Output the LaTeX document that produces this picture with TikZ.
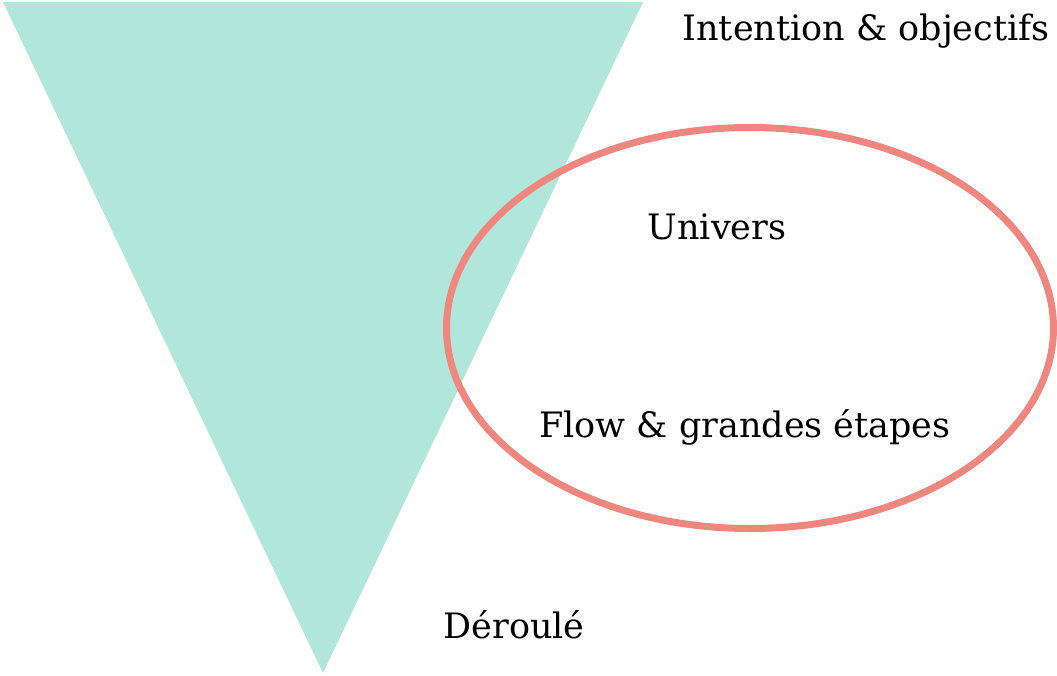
\documentclass[tikz,border=0pt]{standalone}
\usepackage{fontspec}
\setmainfont{DejaVu Serif}
\usetikzlibrary{shapes.geometric}
\definecolor{funnelgreen}{HTML}{B1E6DA}
\definecolor{zonered}{HTML}{F0877F}

\begin{document}
\begin{tikzpicture}[x=1pt, y=-1pt,
  lbl/.style={anchor=base, inner sep=0pt, font=\fontsize{35}{42}\selectfont}]
\useasboundingbox (0,0) rectangle (1057,675);
\fill[funnelgreen] (3,2) -- (643,2) -- (323,673) -- cycle;
\node[draw=zonered, line width=7pt, ellipse, minimum width=607pt, minimum height=401pt, inner sep=0pt] (zone) at (750,328) {};

\node[lbl] (intention) at (866,40) {Intention \& objectifs};
\node[lbl] (univers) at (717,239) {Univers};
\node[lbl] (flow) at (745,437) {Flow \& grandes étapes};
\node[lbl] (deroule) at (514,638) {Déroulé};
\end{tikzpicture}
\end{document}
